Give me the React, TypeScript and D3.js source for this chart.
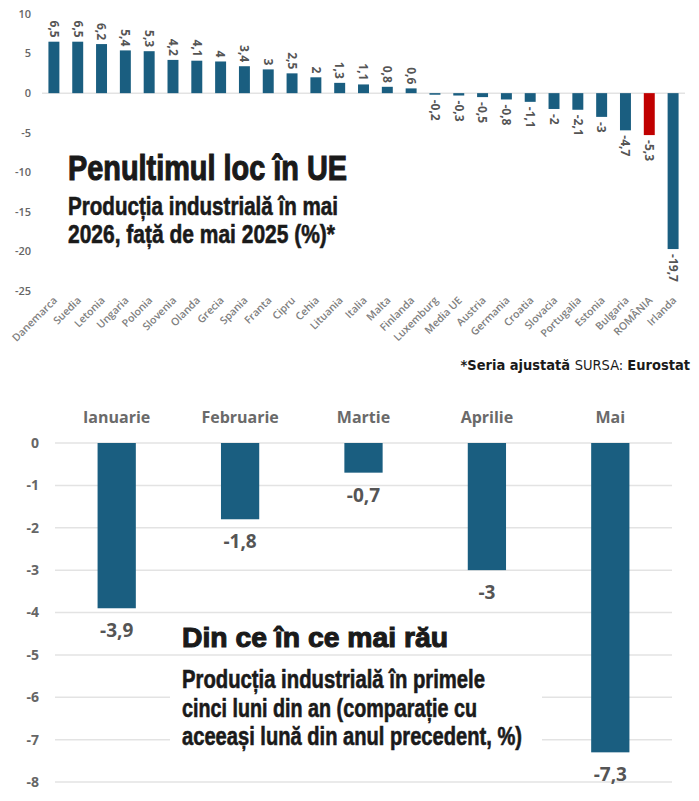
import * as d3 from "d3";
import { useEffect, useRef } from "react";

// top chart: May 2026 vs May 2025, by country
const countries = ["Danemarca", "Suedia", "Letonia", "Ungaria", "Polonia", "Slovenia", "Olanda", "Grecia", "Spania", "Franta", "Cipru", "Cehia", "Lituania", "Italia", "Malta", "Finlanda", "Luxemburg", "Media UE", "Austria", "Germania", "Croatia", "Slovacia", "Portugalia", "Estonia", "Bulgaria", "ROMÂNIA", "Irlanda"];
const countryValues = [6.5, 6.5, 6.2, 5.4, 5.3, 4.2, 4.1, 4, 3.4, 3, 2.5, 2, 1.3, 1.1, 0.8, 0.6, -0.2, -0.3, -0.5, -0.8, -1.1, -2, -2.1, -3, -4.7, -5.3, -19.7];
const topTicks = [10, 5, 0, -5, -10, -15, -20, -25];
const highlight = "ROMÂNIA";

// bottom chart: first five months
const months = ["Ianuarie", "Februarie", "Martie", "Aprilie", "Mai"];
const monthValues = [-3.9, -1.8, -0.7, -3, -7.3];
const bottomTicks = [0, -1, -2, -3, -4, -5, -6, -7, -8];

const BLUE = "#1a5e80";
const RED = "#c00000";
const GREY = "#666";
const GRID = "#e3e3e3";
const HEAD = "'Liberation Sans', Arial, sans-serif";
const NARROW = "'DejaVu Sans Condensed', sans-serif";
const SANS = "'Open Sans', 'Noto Sans', sans-serif";

const fmt = (v: number) => String(v).replace(".", ",");

// condensed headline text squeezed to the width it has in the picture
function headline(g: any, x: number, y: number, size: number, width: number, txt: string, weight = 0.6) {
    g.append("text").attr("x", x).attr("y", y)
        .attr("font-family", HEAD).attr("font-weight", 700).attr("font-size", size)
        .attr("fill", "#1a1a1a").attr("stroke", "#1a1a1a").attr("stroke-width", weight)
        .attr("textLength", width).attr("lengthAdjust", "spacingAndGlyphs")
        .text(txt);
}

export default function App() {
    const ref = useRef<SVGSVGElement>(null);

    useEffect(() => {
        document.body.style.margin = "0";
        const svg = d3.select(ref.current);
        svg.selectAll("*").remove();

        // ---------- top chart ----------
        const x1 = d3.scaleBand().domain(countries).range([42, 685]).paddingInner(0.54).paddingOuter(0.27);
        const y1 = d3.scaleLinear().domain([-25, 10]).range([291, 14]);
        const top = svg.append("g");

        top.selectAll(".ytick").data(topTicks).enter().append("text")
            .attr("x", 31).attr("y", (d) => y1(d)).attr("dy", "0.35em")
            .attr("text-anchor", "end").attr("font-family", SANS).attr("font-weight", 600)
            .attr("font-size", 11).attr("fill", GREY).text((d) => d);

        top.append("line").attr("x1", 42).attr("x2", 685).attr("y1", y1(0)).attr("y2", y1(0))
            .attr("stroke", GRID).attr("stroke-width", 1.5);

        top.selectAll("rect").data(countryValues).enter().append("rect")
            .attr("x", (d, i) => x1(countries[i])!)
            .attr("width", x1.bandwidth())
            .attr("y", (d) => y1(Math.max(0, d)))
            .attr("height", (d) => Math.abs(y1(d) - y1(0)))
            .attr("fill", (d, i) => (countries[i] === highlight ? RED : BLUE));

        // rotated value labels
        top.selectAll(".val").data(countryValues).enter().append("text")
            .attr("transform", (d, i) => {
                const cx = x1(countries[i])! + x1.bandwidth() / 2;
                const yy = d >= 0 ? y1(d) - 4 : y1(d) + 5;
                return `translate(${cx},${yy}) rotate(90)`;
            })
            .attr("dy", "0.35em")
            .attr("text-anchor", (d) => (d >= 0 ? "end" : "start"))
            .attr("font-family", SANS).attr("font-weight", 700).attr("font-size", 12)
            .attr("fill", "#555").text((d) => fmt(d));

        // country names
        top.selectAll(".cat").data(countries).enter().append("text")
            .attr("transform", (d) => `translate(${x1(d)! + x1.bandwidth() / 2 + 4},301) rotate(-45)`)
            .attr("text-anchor", "end").attr("font-family", SANS).attr("font-weight", 600)
            .attr("font-size", 10.5).attr("fill", "#808080").text((d) => d);

        headline(top, 68, 180, 35, 279, "Penultimul loc în UE", 1.1);
        headline(top, 68, 215, 26, 270, "Producția industrială în mai");
        headline(top, 68, 243, 26, 267, "2026, față de mai 2025 (%)*");

        const src = top.append("text").attr("x", 690).attr("y", 370).attr("text-anchor", "end")
            .attr("font-family", NARROW).attr("font-size", 14.5).attr("fill", "#1a1a1a");
        src.append("tspan").attr("font-weight", 700).text("*Seria ajustată ");
        src.append("tspan").text("SURSA: ");
        src.append("tspan").attr("font-weight", 700).text("Eurostat");

        // ---------- bottom chart ----------
        const x2 = d3.scaleBand().domain(months).range([55, 672]).paddingInner(0.69).paddingOuter(0.345);
        const y2 = d3.scaleLinear().domain([-8, 0]).range([782, 443]);
        const bot = svg.append("g");

        bot.selectAll(".grid").data(bottomTicks).enter().append("line")
            .attr("x1", 55).attr("x2", 672).attr("y1", (d) => y2(d)).attr("y2", (d) => y2(d))
            .attr("stroke", GRID).attr("stroke-width", 1.5);

        bot.selectAll(".ytick").data(bottomTicks).enter().append("text")
            .attr("x", 39).attr("y", (d) => y2(d)).attr("dy", "0.35em")
            .attr("text-anchor", "end").attr("font-family", SANS).attr("font-weight", 700)
            .attr("font-size", 14).attr("fill", GREY).text((d) => d);

        bot.selectAll(".month").data(months).enter().append("text")
            .attr("x", (d) => x2(d)! + x2.bandwidth() / 2).attr("y", 423)
            .attr("text-anchor", "middle").attr("font-family", SANS).attr("font-weight", 700)
            .attr("font-size", 16).attr("fill", "#6a6a6a").text((d) => d);

        bot.selectAll("rect").data(monthValues).enter().append("rect")
            .attr("x", (d, i) => x2(months[i])!)
            .attr("width", x2.bandwidth())
            .attr("y", y2(0))
            .attr("height", (d) => y2(d) - y2(0))
            .attr("fill", BLUE);

        bot.selectAll(".val").data(monthValues).enter().append("text")
            .attr("x", (d, i) => x2(months[i])! + x2.bandwidth() / 2)
            .attr("y", (d) => y2(d) + 29)
            .attr("text-anchor", "middle").attr("font-family", SANS).attr("font-weight", 700)
            .attr("font-size", 19).attr("fill", "#555").text((d) => fmt(d));

        // text box over the grid
        bot.append("rect").attr("x", 170).attr("y", 664).attr("width", 372).attr("height", 88).attr("fill", "#fff");
        headline(bot, 182, 647, 28.5, 266, "Din ce în ce mai rău", 1.1);
        const lines = ["Producția industrială în primele", "cinci luni din an (comparație cu", "aceeași lună din anul precedent, %)"];
        const widths = [303, 295, 340];
        lines.forEach((line, i) => headline(bot, 182, 688 + i * 28.5, 25, widths[i], line));
    }, []);

    return <svg ref={ref} width={699} height={801} style={{ display: "block", background: "#fff" }} />;
}
